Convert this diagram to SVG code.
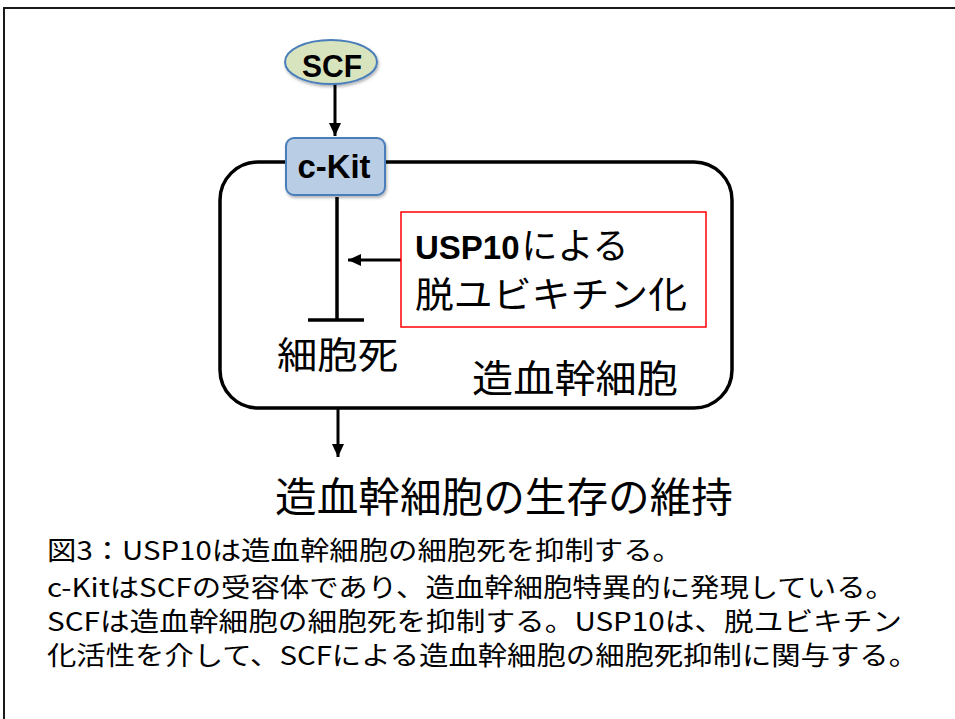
<svg xmlns="http://www.w3.org/2000/svg" width="955" height="719" viewBox="0 0 955 719">
<defs>
<marker id="arr" markerWidth="14" markerHeight="14" viewBox="0 0 14 14" refX="13" refY="7" orient="auto" markerUnits="userSpaceOnUse">
<path d="M0,1 L13,7 L0,13 Z" fill="#000"/>
</marker>
<filter id="sh" x="-20%" y="-20%" width="140%" height="150%">
<feDropShadow dx="1" dy="2" stdDeviation="1.5" flood-color="#000" flood-opacity="0.3"/>
</filter>
</defs>
<style>
.jp{font-family:"Noto Sans CJK JP","Noto Sans",sans-serif;fill:#000}
.lat{font-family:"Liberation Sans",Arial,sans-serif;font-weight:bold;fill:#000}
.cap{font-family:"Noto Sans CJK JP","Noto Sans",sans-serif;font-size:26px;fill:#000}
.ln{stroke:#000;stroke-width:3;fill:none}
</style>
<rect x="0" y="0" width="955" height="719" fill="#fff"/>
<rect id="frame" x="4" y="8" width="970" height="730" fill="none" stroke="#1a1a1a" stroke-width="2"/>

<g id="cell">
<rect x="220" y="162" width="512" height="246" rx="38" ry="38" fill="none" stroke="#000" stroke-width="3.5"/>
<text class="jp" x="472" y="392" font-size="38" textLength="206" lengthAdjust="spacingAndGlyphs">造血幹細胞</text>
</g>

<g id="connectors">
<line class="ln" x1="335" y1="84" x2="335" y2="136" marker-end="url(#arr)"/>
<line x1="337" y1="197" x2="337" y2="320" stroke="#000" stroke-width="3.5"/>
<line x1="308" y1="320" x2="364" y2="320" stroke="#000" stroke-width="3.5"/>
<line class="ln" x1="401" y1="260" x2="348" y2="260" marker-end="url(#arr)"/>
<line class="ln" x1="338" y1="409" x2="338" y2="457" marker-end="url(#arr)"/>
</g>

<g id="scf">
<ellipse cx="331" cy="62" rx="46" ry="22" fill="#d7e4bd" stroke="#4a7ebb" stroke-width="2" filter="url(#sh)"/>
<text class="lat" x="332" y="77" font-size="31" text-anchor="middle" textLength="60" lengthAdjust="spacingAndGlyphs">SCF</text>
</g>

<g id="ckit">
<rect x="286" y="138" width="99" height="57" rx="8" ry="8" fill="#b9cde5" stroke="#4a7ebb" stroke-width="2" filter="url(#sh)"/>
<text class="lat" x="334" y="178" font-size="34" text-anchor="middle" textLength="73" lengthAdjust="spacingAndGlyphs">c-Kit</text>
</g>

<g id="usp10">
<rect x="401" y="212" width="305" height="115" fill="#fff" stroke="#ff0000" stroke-width="1.5"/>
<text x="415" y="259" font-size="36" class="jp"><tspan class="lat" font-size="33">USP10</tspan><tspan dx="2">による</tspan></text>
<text class="jp" x="415" y="308" font-size="36" textLength="272" lengthAdjust="spacingAndGlyphs">脱ユビキチン化</text>
</g>

<g id="death">
<text class="jp" x="277" y="369" font-size="37" textLength="121" lengthAdjust="spacingAndGlyphs">細胞死</text>
</g>

<g id="survival">
<text class="jp" x="275" y="512" font-size="41" textLength="458" lengthAdjust="spacingAndGlyphs">造血幹細胞の生存の維持</text>
</g>

<g id="caption">
<text class="cap" x="47" y="560" textLength="635" lengthAdjust="spacingAndGlyphs">図3：USP10は造血幹細胞の細胞死を抑制する。</text>
<text class="cap" x="47" y="597" textLength="848" lengthAdjust="spacingAndGlyphs">c-KitはSCFの受容体であり、造血幹細胞特異的に発現している。</text>
<text class="cap" x="47" y="631" textLength="855" lengthAdjust="spacingAndGlyphs">SCFは造血幹細胞の細胞死を抑制する。USP10は、脱ユビキチン</text>
<text class="cap" x="47" y="665" textLength="871" lengthAdjust="spacingAndGlyphs">化活性を介して、SCFによる造血幹細胞の細胞死抑制に関与する。</text>
</g>
</svg>
